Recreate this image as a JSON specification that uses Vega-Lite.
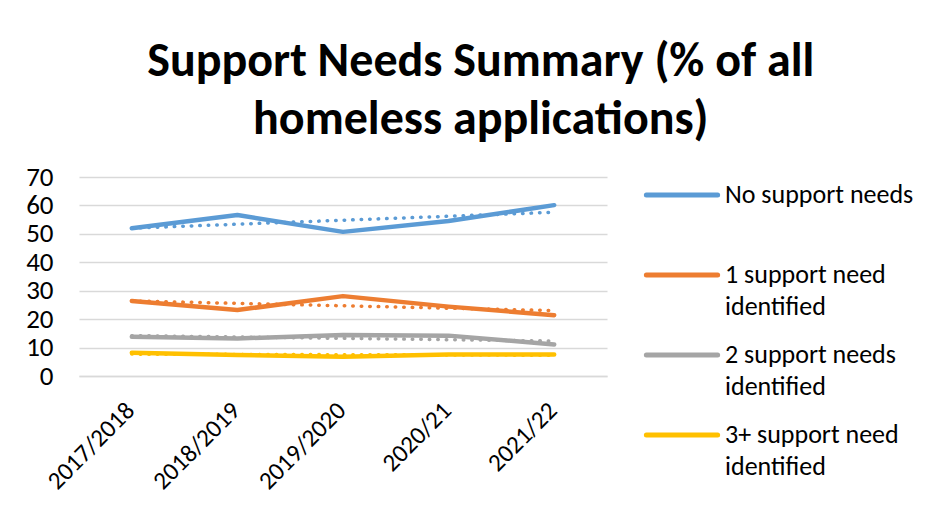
{
  "$schema": "https://vega.github.io/schema/vega-lite/v6.json",
  "width": 528,
  "height": 199,
  "padding": {"left": 25, "top": 38, "right": 5, "bottom": 0},
  "background": "white",
  "config": {
    "font": "Carlito, Lato, sans-serif",
    "view": {"stroke": null}
  },
  "title": {
    "text": ["Support Needs Summary (% of all", "homeless applications)"],
    "fontSize": 48,
    "fontWeight": "bold",
    "font": "Carlito, Lato, sans-serif",
    "lineHeight": 58,
    "color": "black",
    "anchor": "middle",
    "frame": "bounds",
    "dx": 11,
    "offset": 19
  },
  "datasets": {
    "main": [
      {"year": "2017/2018", "series": "No support needs", "value": 52.0},
      {"year": "2018/2019", "series": "No support needs", "value": 56.6},
      {"year": "2019/2020", "series": "No support needs", "value": 50.7},
      {"year": "2020/21", "series": "No support needs", "value": 54.5},
      {"year": "2021/22", "series": "No support needs", "value": 60.1},
      {"year": "2017/2018", "series": "1 support need identified", "value": 26.4},
      {"year": "2018/2019", "series": "1 support need identified", "value": 23.2},
      {"year": "2019/2020", "series": "1 support need identified", "value": 28.1},
      {"year": "2020/21", "series": "1 support need identified", "value": 24.4},
      {"year": "2021/22", "series": "1 support need identified", "value": 21.4},
      {"year": "2017/2018", "series": "2 support needs identified", "value": 13.8},
      {"year": "2018/2019", "series": "2 support needs identified", "value": 13.2},
      {"year": "2019/2020", "series": "2 support needs identified", "value": 14.4},
      {"year": "2020/21", "series": "2 support needs identified", "value": 14.2},
      {"year": "2021/22", "series": "2 support needs identified", "value": 11.1},
      {"year": "2017/2018", "series": "3+ support need identified", "value": 8.2},
      {"year": "2018/2019", "series": "3+ support need identified", "value": 7.4},
      {"year": "2019/2020", "series": "3+ support need identified", "value": 6.8},
      {"year": "2020/21", "series": "3+ support need identified", "value": 7.6},
      {"year": "2021/22", "series": "3+ support need identified", "value": 7.6}
    ],
    "trend": [
      {"year": "2017/2018", "series": "No support needs", "value": 52.0},
      {"year": "2021/22", "series": "No support needs", "value": 57.6},
      {"year": "2017/2018", "series": "1 support need identified", "value": 26.4},
      {"year": "2021/22", "series": "1 support need identified", "value": 23.0},
      {"year": "2017/2018", "series": "2 support needs identified", "value": 14.2},
      {"year": "2021/22", "series": "2 support needs identified", "value": 12.3},
      {"year": "2017/2018", "series": "3+ support need identified", "value": 7.7},
      {"year": "2021/22", "series": "3+ support need identified", "value": 7.3}
    ]
  },
  "encoding": {
    "x": {
      "field": "year",
      "type": "ordinal",
      "scale": {"domain": ["2017/2018", "2018/2019", "2019/2020", "2020/21", "2021/22"]},
      "axis": {
        "title": null,
        "labelAngle": -45,
        "labelAlign": "right",
        "labelBaseline": "middle",
        "labelFontSize": 25,
        "labelColor": "black",
        "labelPadding": 30,
        "labelOffset": -2,
        "ticks": false,
        "domain": true,
        "domainColor": "#D9D9D9",
        "domainWidth": 1.5,
        "grid": false
      }
    },
    "y": {
      "field": "value",
      "type": "quantitative",
      "scale": {"domain": [0, 70], "nice": false},
      "axis": {
        "title": null,
        "values": [0, 10, 20, 30, 40, 50, 60, 70],
        "labelFontSize": 27,
        "labelColor": "black",
        "labelPadding": 26,
        "ticks": false,
        "domain": false,
        "grid": true,
        "gridColor": "#D9D9D9",
        "gridWidth": 1.5
      }
    }
  },
  "layer": [
    {
      "data": {"name": "main"},
      "mark": {"type": "line", "strokeWidth": 4.5, "strokeCap": "round", "strokeJoin": "round"},
      "encoding": {
        "color": {
          "field": "series",
          "type": "nominal",
          "scale": {
            "domain": ["No support needs", "1 support need identified", "2 support needs identified", "3+ support need identified"],
            "range": ["#5B9BD5", "#ED7D31", "#A5A5A5", "#FFC000"]
          },
          "legend": {
            "title": null,
            "orient": "right",
            "offset": 41,
            "symbolType": "M-2.3,0H2.3",
            "symbolSize": 961,
            "symbolStrokeWidth": 5,
            "symbolOffset": 16,
            "symbolFillColor": "transparent",
            "labelFontSize": 26,
            "labelColor": "black",
            "labelLimit": 400,
            "labelOffset": 25,
            "rowPadding": 17,
            "labelExpr": "datum.label == '1 support need identified' ? ['1 support need', 'identified'] : datum.label == '2 support needs identified' ? ['2 support needs', 'identified'] : datum.label == '3+ support need identified' ? ['3+ support need', 'identified'] : [datum.label, '']",
            "labelBaseline": "alphabetic",
            "encoding": {
              "labels": {"dy": {"value": 8}, "lineHeight": {"value": 32}},
              "symbols": {"strokeCap": {"value": "round"}}
            }
          }
        }
      }
    },
    {
      "data": {"name": "trend"},
      "mark": {"type": "line", "strokeWidth": 3.5, "strokeCap": "round", "strokeDash": [0.5, 8]},
      "encoding": {
        "color": {"field": "series", "type": "nominal", "legend": null}
      }
    }
  ]
}
